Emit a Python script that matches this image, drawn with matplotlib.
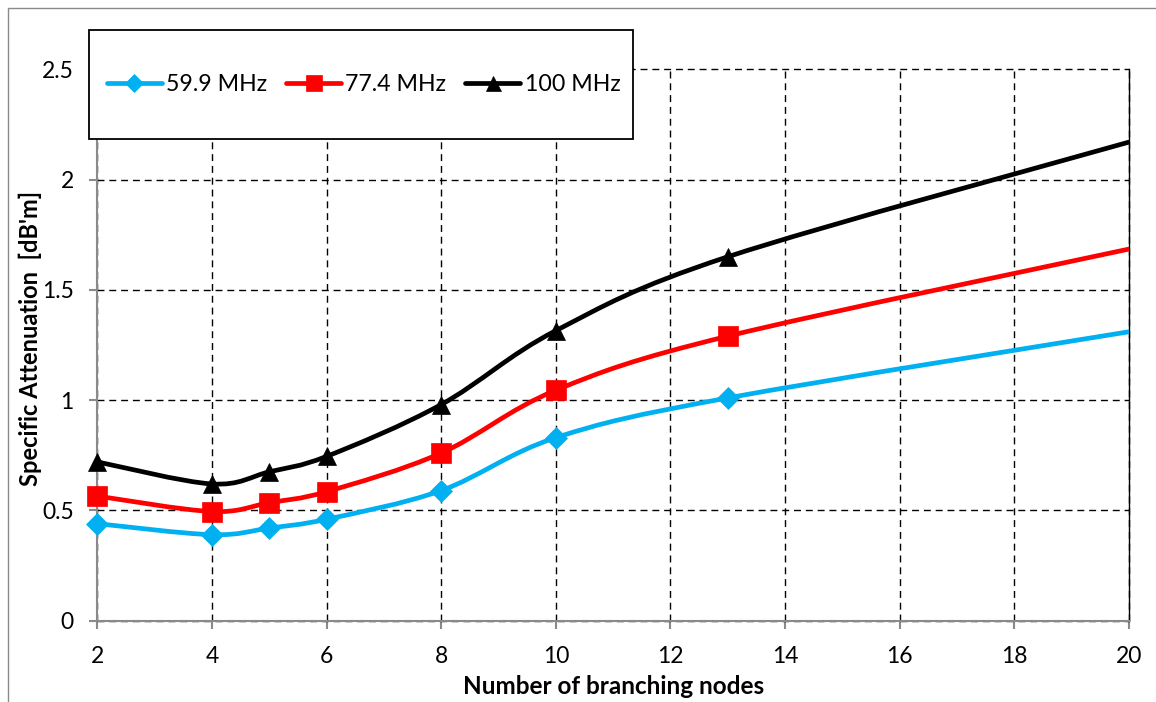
import matplotlib
matplotlib.use("Agg")
import matplotlib.pyplot as plt
from matplotlib.path import Path
from matplotlib.patches import PathPatch, Rectangle
from matplotlib.lines import Line2D

# Data: specific attenuation versus number of branching nodes
nodes = [2, 4, 5, 6, 8, 10, 13, 20]
att_59_9 = [0.44, 0.39, 0.42, 0.46, 0.59, 0.83, 1.01, 1.31]
att_77_4 = [0.565, 0.495, 0.535, 0.585, 0.76, 1.045, 1.29, 1.685]
att_100 = [0.72, 0.62, 0.675, 0.745, 0.98, 1.315, 1.65, 2.17]

series_labels = ["59.9 MHz", "77.4 MHz", "100 MHz"]
series_values = [att_59_9, att_77_4, att_100]
series_colors = ["#00B0F0", "#FF0000", "#000000"]
series_markers = ["D", "s", "^"]
marker_sizes = [11.5, 14, 13.5]

x_ticks = [2, 4, 6, 8, 10, 12, 14, 16, 18, 20]
y_ticks = [0, 0.5, 1, 1.5, 2, 2.5]
y_tick_labels = ["0", "0.5", "1", "1.5", "2", "2.5"]

plt.rcParams["font.family"] = ["Lato", "DejaVu Sans"]

W, H = 1156, 702
fig = plt.figure(figsize=(W / 100, H / 100), dpi=100)
fig.patch.set_facecolor("white")


def fx(px):
    return px / W


def fy(py):
    return 1 - py / H


left, right, top, bottom = 97.3, 1129.0, 69.3, 620.7
ax = fig.add_axes([fx(left), fy(bottom), fx(right - left), (bottom - top) / H])
ax.set_xlim(2, 20)
ax.set_ylim(0, 2.5)


def smooth_path(xs, ys, t=1 / 6):
    """Cubic Bezier path through the points (Catmull-Rom style smoothing)."""
    pts = list(zip(xs, ys))
    n = len(pts)
    verts = [pts[0]]
    codes = [Path.MOVETO]
    for i in range(n - 1):
        p0 = pts[i - 1] if i > 0 else pts[i]
        p1 = pts[i]
        p2 = pts[i + 1]
        p3 = pts[i + 2] if i + 2 < n else pts[i + 1]
        c1 = (p1[0] + (p2[0] - p0[0]) * t, p1[1] + (p2[1] - p0[1]) * t)
        c2 = (p2[0] - (p3[0] - p1[0]) * t, p2[1] - (p3[1] - p1[1]) * t)
        verts += [c1, c2, p2]
        codes += [Path.CURVE4] * 3
    return Path(verts, codes)


handles = []
for vals, col, mk, ms, lab in zip(series_values, series_colors, series_markers,
                                  marker_sizes, series_labels):
    patch = PathPatch(smooth_path(nodes, vals), facecolor="none", edgecolor=col,
                      lw=3.4, capstyle="round", joinstyle="round", zorder=3)
    ax.add_patch(patch)
    ax.plot(nodes[:-1], vals[:-1], linestyle="none", marker=mk, ms=ms,
            mfc=col, mec=col, mew=0.5, zorder=4, clip_on=False)
    handles.append(Line2D([], [], color=col, lw=3.4, marker=mk, ms=ms * 0.8,
                          mfc=col, mec=col, mew=0.5, solid_capstyle="round"))

# Axes styling
ax.set_xticks(x_ticks)
ax.set_yticks(y_ticks)
ax.set_yticklabels(y_tick_labels)
ax.grid(True, color="black", linestyle=(0, (5, 3.5)), linewidth=1.0)
for gl in ax.get_xgridlines() + ax.get_ygridlines():
    gl.set_clip_on(False)
ax.set_axisbelow(True)

ax.spines["top"].set_visible(False)
ax.spines["right"].set_color("black")
ax.spines["right"].set_linewidth(1.0)
for side in ["left", "bottom"]:
    ax.spines[side].set_color("#8A8A8A")
    ax.spines[side].set_linewidth(1.5)
    ax.spines[side].set_zorder(2.5)

ax.tick_params(axis="both", direction="out", length=6, width=1.5, color="#8A8A8A",
               labelsize=16.5, labelcolor="black")
ax.tick_params(axis="x", pad=12.5)
ax.tick_params(axis="y", pad=11)

ax.set_xlabel("Number of branching nodes", fontsize=17.5, fontweight="bold")
ax.xaxis.set_label_coords(0.5, (620.7 - 687.0) / (620.7 - 69.3))
ax.xaxis.label.set_va("center")
ax.set_ylabel("Specific Attenuation  [dB'm]", fontsize=17, fontweight="bold")
ax.yaxis.set_label_coords((30.0 - 97.3) / (1129.0 - 97.3),
                          (620.7 - 338.0) / (620.7 - 69.3))
ax.yaxis.label.set_va("center")

# Outer chart border
fig.patches.append(Rectangle((fx(8), fy(720)), 1.2, fy(8) - fy(720),
                             transform=fig.transFigure, facecolor="none",
                             edgecolor="#8A8A8A", lw=1.0, zorder=0.5))

# Legend box
lx0, lx1, ly0, ly1 = 89, 633, 30.5, 139.3
fig.patches.append(Rectangle((fx(lx0), fy(ly1)), fx(lx1 - lx0), (ly1 - ly0) / H,
                             transform=fig.transFigure, facecolor="white",
                             edgecolor="black", lw=1.3, zorder=3))
fig.legend(handles, series_labels, loc="center left",
           bbox_to_anchor=(fx(107), fy(84.5)), ncol=3, frameon=False,
           fontsize=16.7, handlelength=2.37, handletextpad=0.18,
           columnspacing=0.82, borderpad=0, borderaxespad=0)

fig.savefig("out.png", dpi=100, facecolor="white")
